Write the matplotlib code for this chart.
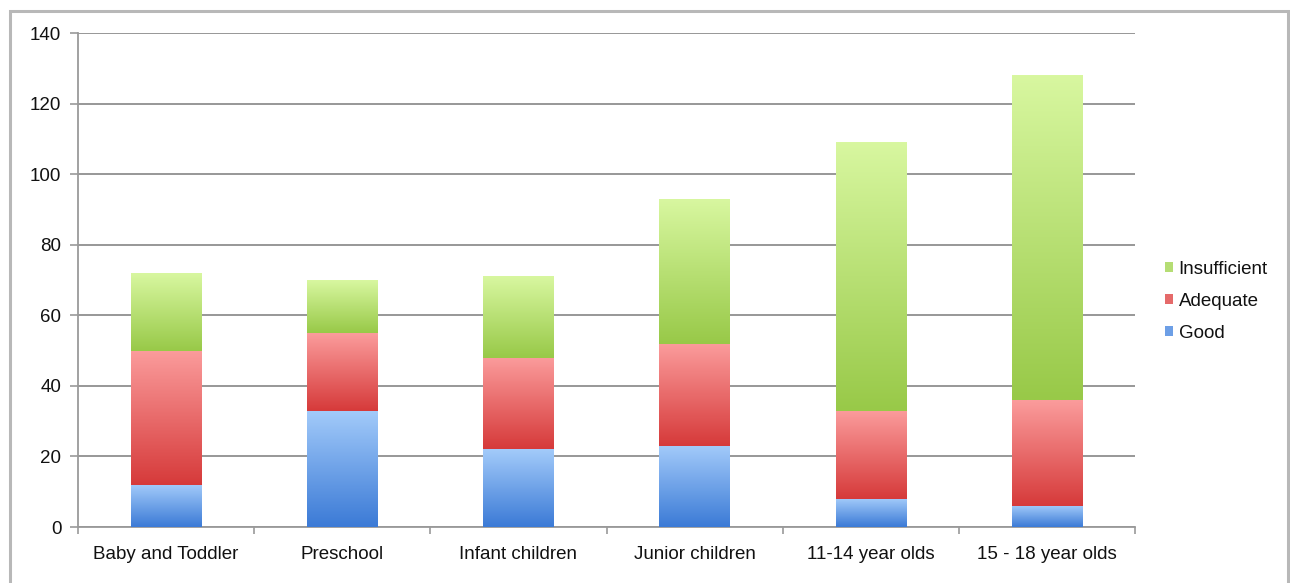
import numpy as np
import matplotlib
matplotlib.use("Agg")
import matplotlib.pyplot as plt
from matplotlib.colors import LinearSegmentedColormap
from matplotlib.patches import Rectangle, Patch

plt.rcParams['font.family'] = ['Liberation Sans', 'DejaVu Sans']

# data
categories = ["Baby and Toddler", "Preschool", "Infant children",
              "Junior children", "11-14 year olds", "15 - 18 year olds"]
good = [12, 33, 22, 23, 8, 6]
adequate = [38, 22, 26, 29, 25, 30]
insufficient = [22, 15, 23, 41, 76, 92]
series_names = ["Good", "Adequate", "Insufficient"]

# (top colour, bottom colour, legend colour)
shades = {
    "Good": ("#a3cbfa", "#3b7ad6", "#6d9fe6"),
    "Adequate": ("#fb9c9c", "#d63a3a", "#e56a6a"),
    "Insufficient": ("#d8f7a0", "#98c948", "#b5dd74"),
}

fig = plt.figure(figsize=(12.9, 5.83), dpi=100)
fig.patches.append(Rectangle((10 / 1290, -0.1), 1278 / 1290, 1.1 - 11 / 583,
                             transform=fig.transFigure, fill=False,
                             edgecolor="#b8b8b8", linewidth=2.2, zorder=0))
ax = fig.add_axes([78 / 1290, 56 / 583, 1057 / 1290, 494 / 583])

x = np.arange(len(categories))
width = 0.4
grad = np.linspace(1, 0, 256).reshape(-1, 1)

bottom = np.zeros(len(categories))
for name, vals in zip(series_names, [good, adequate, insufficient]):
    top_c, bot_c, leg_c = shades[name]
    cmap = LinearSegmentedColormap.from_list(name, [bot_c, top_c])
    bars = ax.bar(x, vals, width, bottom=bottom, color="none",
                  edgecolor="none", zorder=3)
    for b in bars:
        x0, y0 = b.get_x(), b.get_y()
        img = ax.imshow(grad, cmap=cmap, aspect="auto", zorder=3,
                        extent=[x0, x0 + b.get_width(), y0, y0 + b.get_height()],
                        vmin=0, vmax=1, origin="upper")
        img.set_clip_path(b)
    bottom += np.array(vals)

ax.set_xlim(-0.5, len(categories) - 0.5)
ax.set_ylim(0, 140)
ax.set_yticks(np.arange(0, 141, 20))
ax.set_xticks(x)
ax.set_xticklabels(categories)
ax.set_xticks(np.arange(-0.5, len(categories)), minor=True)
ax.tick_params(axis="x", which="major", length=0, pad=14)
ax.tick_params(axis="x", which="minor", length=5, color="#9a9a9a", width=1.2)
ax.tick_params(axis="y", length=6, color="#9a9a9a", width=1.2, pad=6)
ax.tick_params(labelsize=13.5, labelcolor="#111111")
ax.yaxis.grid(True, color="#8f8f8f", linewidth=1.3, zorder=0)
ax.set_axisbelow(True)
for s in ["top", "right"]:
    ax.spines[s].set_visible(False)
for s in ["left", "bottom"]:
    ax.spines[s].set_color("#9a9a9a")
    ax.spines[s].set_linewidth(1.3)

handles = [Patch(facecolor=shades[n][2], edgecolor="none") for n in reversed(series_names)]
fig.legend(handles, list(reversed(series_names)), loc="center left",
           bbox_to_anchor=(1157 / 1290, 1 - 301 / 583), frameon=False,
           fontsize=13.5, labelcolor="#111111", handlelength=0.45,
           handleheight=0.45, handletextpad=0.3,
           labelspacing=0.8, borderaxespad=0)

fig.savefig("out.png", dpi=100)
